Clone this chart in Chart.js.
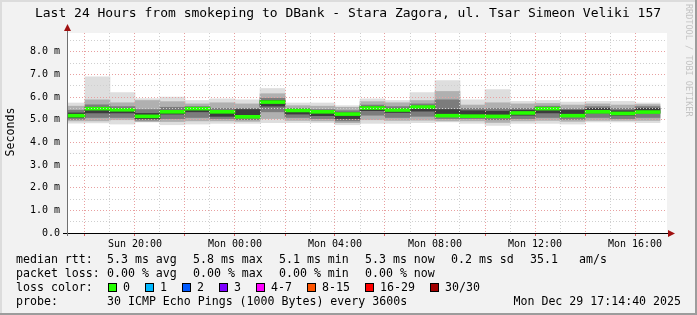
<!DOCTYPE html>
<html>
<head>
<meta charset="utf-8">
<script src="https://cdn.jsdelivr.net/npm/chart.js@4.4.0/dist/chart.umd.min.js"></script>
<style>
  html, body { margin: 0; padding: 0; background: #f2f2f2; }
  canvas { display: block; }
</style>
</head>
<body>
<canvas id="smoke" width="697" height="315"></canvas>
<script>
// hour slots (hours since Sun 00:00), one bar per 3600s step
const hours = [17.5, 18.5, 19.5, 20.5, 21.5, 22.5, 23.5, 24.5, 25.5, 26.5, 27.5, 28.5,
               29.5, 30.5, 31.5, 32.5, 33.5, 34.5, 35.5, 36.5, 37.5, 38.5, 39.5, 40.5];

// median rtt per hour (ms)
const median = [5.18, 5.49, 5.44, 5.15, 5.35, 5.49, 5.35, 5.13, 5.78, 5.41, 5.35, 5.25,
                5.52, 5.43, 5.56, 5.18, 5.16, 5.15, 5.30, 5.49, 5.18, 5.35, 5.28, 5.34];

// smoke: spread of the 30 pings per hour (ms)
const pingMax = [5.74, 6.89, 6.20, 5.93, 6.00, 5.85, 5.92, 5.88, 6.38, 5.74, 5.74, 5.62,
                 5.92, 5.85, 6.20, 6.73, 5.88, 6.33, 5.81, 5.85, 5.78, 5.81, 5.81, 5.74];
const pingP90 = [5.60, 5.88, 5.75, 5.85, 5.80, 5.70, 5.75, 5.70, 6.15, 5.62, 5.60, 5.55,
                 5.80, 5.75, 5.85, 6.25, 5.65, 5.75, 5.70, 5.72, 5.65, 5.70, 5.65, 5.67];
const pingP75 = [5.42, 5.66, 5.58, 5.45, 5.55, 5.58, 5.50, 5.50, 5.95, 5.50, 5.45, 5.40,
                 5.65, 5.58, 5.70, 5.88, 5.50, 5.50, 5.50, 5.60, 5.48, 5.58, 5.50, 5.58];
const pingP60 = [5.30, 5.55, 5.46, 5.28, 5.42, 5.52, 5.38, 5.45, 5.85, 5.45, 5.38, 5.30,
                 5.58, 5.48, 5.60, 5.45, 5.40, 5.38, 5.42, 5.52, 5.42, 5.50, 5.40, 5.50];
const pingP40 = [5.10, 5.30, 5.30, 5.05, 5.25, 5.35, 5.15, 5.12, 5.60, 5.25, 5.18, 5.05,
                 5.40, 5.32, 5.38, 5.20, 5.20, 5.15, 5.20, 5.30, 5.15, 5.30, 5.20, 5.30];
const pingP25 = [5.02, 5.10, 5.10, 4.98, 5.05, 5.10, 5.05, 5.00, 5.35, 5.10, 5.05, 4.95,
                 5.20, 5.10, 5.15, 5.05, 5.05, 5.00, 5.05, 5.10, 5.02, 5.10, 5.05, 5.10];
const pingP10 = [4.95, 4.95, 5.00, 4.92, 4.92, 4.95, 4.95, 4.93, 5.05, 4.97, 4.95, 4.87,
                 5.00, 4.97, 4.98, 4.95, 4.95, 4.88, 4.95, 4.97, 4.93, 4.97, 4.97, 4.97];
const pingMin = [4.85, 4.86, 4.81, 4.90, 4.78, 4.81, 4.84, 4.84, 4.87, 4.87, 4.87, 4.78,
                 4.84, 4.84, 4.87, 4.90, 4.84, 4.75, 4.84, 4.84, 4.81, 4.90, 4.90, 4.87];

// axis ticks
const yTickValues = [0, 0.5, 1, 1.5, 2, 2.5, 3, 3.5, 4, 4.5, 5, 5.5, 6, 6.5, 7, 7.5, 8, 8.5];
const yTickLabels = ['0.0', '', '1.0 m', '', '2.0 m', '', '3.0 m', '', '4.0 m', '',
                     '5.0 m', '', '6.0 m', '', '7.0 m', '', '8.0 m', ''];
const xTickValues = [18, 19, 20, 21, 22, 23, 24, 25, 26, 27, 28, 29, 30, 31, 32, 33, 34,
                     35, 36, 37, 38, 39, 40];
const xTickLabels = ['', '', 'Sun 20:00', '', '', '', 'Mon 00:00', '', '', '', 'Mon 04:00', '',
                     '', '', 'Mon 08:00', '', '', '', 'Mon 12:00', '', '', '', 'Mon 16:00'];

// legend rows
const legendRows = [
    [[16, 'median rtt:'], [107, '5.3 ms avg'], [193, '5.8 ms max'], [279, '5.1 ms min'],
     [365, '5.3 ms now'], [451, '0.2 ms sd'], [530, '35.1'], [579, 'am/s']],
    [[16, 'packet loss:'], [107, '0.00 % avg'], [193, '0.00 % max'], [279, '0.00 % min'],
     [365, '0.00 % now']],
    [[16, 'loss color:']],
    [[16, 'probe:'], [107, '30 ICMP Echo Pings (1000 Bytes) every 3600s']]
];
const lossLabels = ['0', '1', '2', '3', '4-7', '8-15', '16-29', '30/30'];
const lossColors = ['#26ff00', '#00b8ff', '#0059ff', '#7e00ff', '#ff00ff', '#ff5500', '#ff0000', '#a10000'];
const lossX = [108, 145, 182, 219, 256, 307, 365, 430];

const MONO = '"DejaVu Sans Mono", "Liberation Mono", monospace';
const MEDIAN_HALF = 0.065; // half thickness of the median bar, ms

function band(lo, hi) {
    return hours.map((h, i) => ({ x: h, y: [lo[i], hi[i]] }));
}

function smokeSet(label, lo, hi, color) {
    return {
        label: label,
        data: band(lo, hi),
        backgroundColor: color,
        borderWidth: 0,
        grouped: false,
        barPercentage: 1,
        categoryPercentage: 1
    };
}

const medianLo = median.map(v => v - MEDIAN_HALF);
const medianHi = median.map(v => v + MEDIAN_HALF);

/**
 * Decorations drawn around the plot: frame, title, legend, arrows
 */
const rrdDecor = {
    id: 'rrdDecor',
    beforeDraw(chart) {
        const c = chart.ctx, a = chart.chartArea;
        const W = chart.width, H = chart.height;
        c.save();
        c.fillStyle = '#f2f2f2';
        c.fillRect(0, 0, W, H);
        c.fillStyle = '#dcdcdc';
        c.fillRect(0, 0, W, 2);
        c.fillRect(0, 0, 2, H);
        c.fillStyle = '#9c9c9c';
        c.fillRect(W - 2, 0, 2, H);
        c.fillRect(0, H - 2, W, 2);
        c.fillStyle = '#ffffff';
        c.fillRect(a.left, a.top, a.right - a.left, a.bottom - a.top);
        c.restore();
    },
    afterDraw(chart) {
        const c = chart.ctx, a = chart.chartArea;
        c.save();
        // axis extensions and arrows
        c.strokeStyle = '#000000';
        c.lineWidth = 1;
        c.beginPath();
        c.moveTo(a.left - 4, a.bottom + 0.5);
        c.lineTo(a.right + 4, a.bottom + 0.5);
        c.stroke();
        c.strokeStyle = '#707070';
        c.beginPath();
        c.moveTo(a.left + 0.5, a.bottom + 3);
        c.lineTo(a.left + 0.5, a.top - 5);
        c.stroke();
        c.fillStyle = '#a01010';
        c.beginPath();
        c.moveTo(a.left + 0.5, a.top - 9);
        c.lineTo(a.left - 3, a.top - 2);
        c.lineTo(a.left + 4, a.top - 2);
        c.closePath();
        c.fill();
        c.beginPath();
        c.moveTo(a.right + 8, a.bottom + 0.5);
        c.lineTo(a.right + 1, a.bottom - 3);
        c.lineTo(a.right + 1, a.bottom + 4);
        c.closePath();
        c.fill();

        // title
        c.fillStyle = '#000000';
        c.font = '13px ' + MONO;
        c.textAlign = 'center';
        c.textBaseline = 'middle';
        c.fillText('Last 24 Hours from smokeping to DBank - Stara Zagora, ul. Tsar Simeon Veliki 157', 348, 14);

        // vertical axis title
        c.font = '11.6px ' + MONO;
        c.save();
        c.translate(11, 132);
        c.rotate(-Math.PI / 2);
        c.fillText('Seconds', 0, 0);
        c.restore();

        // watermark
        c.save();
        c.fillStyle = '#c4c4c4';
        c.font = '8.5px ' + MONO;
        c.translate(688, 4);
        c.rotate(Math.PI / 2);
        c.textAlign = 'left';
        c.fillText('RRDTOOL / TOBI OETIKER', 0, 0);
        c.restore();

        // legend
        c.textAlign = 'left';
        c.font = '11.6px ' + MONO;
        legendRows.forEach((row, r) => {
            const y = 259.5 + r * 14;
            row.forEach(([x, t]) => c.fillText(t, x, y));
        });
        lossLabels.forEach((t, i) => {
            const x = lossX[i], y = 259.5 + 2 * 14;
            c.fillStyle = lossColors[i];
            c.fillRect(x, y - 4.5, 9, 9);
            c.strokeStyle = '#000000';
            c.strokeRect(x + 0.5, y - 4, 8, 8);
            c.fillStyle = '#000000';
            c.fillText(t, x + 15, y);
        });
        c.textAlign = 'right';
        c.fillText('Mon Dec 29 17:14:40 2025', 681, 259.5 + 3 * 14);
        c.restore();
    }
};

new Chart(document.getElementById('smoke'), {
    type: 'bar',
    data: {
        datasets: [
            smokeSet('median', medianLo, medianHi, '#26ff00'),
            smokeSet('p40-p60', pingP40, pingP60, '#3c3c3c'),
            smokeSet('p25-p75', pingP25, pingP75, '#7c7c7c'),
            smokeSet('p10-p90', pingP10, pingP90, '#b0b0b0'),
            smokeSet('min-max', pingMin, pingMax, '#dedede')
        ]
    },
    options: {
        responsive: false,
        animation: false,
        devicePixelRatio: 1,
        layout: { padding: { left: 0, top: 33, right: 30, bottom: 62 } },
        plugins: {
            legend: { display: false },
            tooltip: { enabled: false },
            title: { display: false }
        },
        scales: {
            x: {
                type: 'linear',
                offset: false,
                min: 17.28,
                max: 41.28,
                afterFit(scale) {
                    scale.height = 20;
                    scale.paddingLeft = 0;
                    scale.paddingRight = 0;
                },
                afterBuildTicks(scale) { scale.ticks = xTickValues.map(v => ({ value: v })); },
                ticks: {
                    autoSkip: false,
                    maxRotation: 0,
                    padding: 2,
                    color: '#000000',
                    font: { family: MONO, size: 10 },
                    callback: (v, i) => xTickLabels[i]
                },
                grid: {
                    z: 1,
                    offset: false,
                    color: ctx => (ctx.tick && ctx.tick.value % 2 === 0) ? '#e8a0a0' : '#cfcfcf',
                    tickColor: ctx => (ctx.tick && ctx.tick.value % 2 === 0) ? '#e06060' : 'rgba(0,0,0,0)',
                    tickLength: 3,
                    lineWidth: 1
                },
                border: { display: false, dash: [1, 2] }
            },
            y: {
                min: 0,
                max: 8.83,
                afterFit(scale) {
                    scale.width = 67;
                    scale.paddingTop = 0;
                    scale.paddingBottom = 0;
                },
                afterBuildTicks(scale) { scale.ticks = yTickValues.map(v => ({ value: v })); },
                ticks: {
                    autoSkip: false,
                    padding: 7,
                    color: '#000000',
                    font: { family: MONO, size: 10 },
                    callback: (v, i) => yTickLabels[i]
                },
                grid: {
                    z: 1,
                    drawTicks: false,
                    color: ctx => (ctx.tick && ctx.tick.value % 1 === 0 && ctx.tick.value > 0) ? '#e8a0a0' :
                                  (ctx.tick && ctx.tick.value > 0 ? '#cfcfcf' : 'rgba(0,0,0,0)'),
                    lineWidth: 1
                },
                border: { display: false, dash: [1, 2] }
            }
        }
    },
    plugins: [rrdDecor]
});
</script>
</body>
</html>
